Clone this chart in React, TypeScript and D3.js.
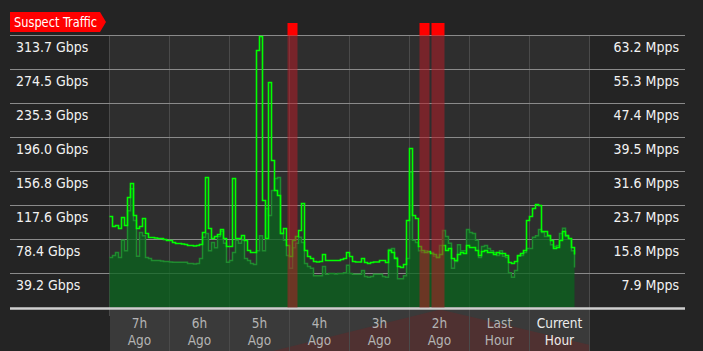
import * as d3 from "d3";

const W = 703;
const H = 351;

// traffic samples, one every 3 minutes starting 8h ago
const bpsGbps = [
  105.0, 93.4, 94.6, 91.1, 103.8, 94.6, 126.9, 143.0, 106.1, 91.1,
  93.4, 102.6, 85.3, 80.7, 80.7, 80.2, 79.6, 79.6, 78.4, 77.3,
  77.3, 75.0, 73.8, 73.8, 73.2, 72.7, 71.5, 71.5, 70.9, 71.5,
  72.7, 86.5, 149.9, 91.1, 79.6, 81.9, 84.2, 90.0, 79.6, 70.4,
  70.4, 148.8, 79.6, 79.6, 83.0, 77.3, 65.7, 63.4, 63.4, 296.4,
  312.5, 123.4, 79.6, 259.5, 169.5, 134.9, 129.2, 85.3, 91.1, 71.5,
  58.8, 77.3, 81.9, 88.8, 119.9, 65.7, 58.8, 56.5, 53.1, 52.5,
  53.1, 61.1, 54.2, 54.2, 54.2, 54.2, 54.2, 55.4, 56.5, 63.4,
  58.8, 53.1, 52.5, 52.5, 56.5, 51.9, 50.7, 51.9, 52.5, 52.5,
  54.2, 54.2, 51.9, 65.7, 63.4, 56.5, 47.3, 46.1, 49.6, 100.3,
  183.4, 106.1, 102.6, 70.4, 65.7, 63.4, 64.6, 62.3, 61.1, 57.7,
  61.1, 71.5, 65.7, 68.0, 56.5, 54.2, 61.1, 63.4, 62.3, 71.5,
  69.2, 69.2, 65.7, 60.0, 64.6, 65.7, 63.4, 63.4, 61.1, 63.4,
  62.3, 62.3, 60.0, 51.9, 50.7, 53.1, 60.0, 62.3, 65.7, 100.3,
  105.0, 114.2, 118.8, 117.6, 87.7, 87.7, 83.0, 77.3, 68.0, 69.2,
  77.3, 87.7, 83.0, 79.6, 69.2, 61.1,
];

const ppsMpps = [
  11.6, 12.1, 12.8, 11.6, 15.6, 13.2, 22.5, 27.6, 20.2, 11.9,
  17.4, 16.7, 11.6, 11.4, 10.9, 10.9, 10.9, 10.8, 10.7, 10.7,
  10.6, 10.5, 10.5, 10.5, 10.5, 10.5, 10.2, 10.2, 10.1, 10.2,
  11.4, 16.3, 17.2, 13.2, 15.1, 13.9, 16.5, 17.7, 14.9, 10.5,
  10.9, 12.8, 15.6, 14.9, 15.6, 11.4, 10.9, 10.2, 10.0, 13.2,
  16.7, 13.2, 23.0, 21.4, 27.2, 30.0, 30.2, 17.2, 15.6, 12.1,
  9.1, 13.9, 14.9, 16.3, 15.1, 10.2, 9.5, 9.1, 7.4, 7.4,
  7.4, 9.5, 7.7, 7.9, 7.9, 7.8, 7.9, 7.9, 8.1, 9.8,
  7.9, 7.7, 7.7, 7.7, 8.6, 7.2, 7.0, 7.2, 7.7, 7.7,
  7.7, 7.2, 7.0, 13.5, 13.7, 11.6, 6.7, 6.7, 7.4, 11.4,
  31.4, 15.6, 15.1, 13.2, 12.8, 13.2, 12.8, 12.8, 11.9, 11.6,
  14.4, 17.9, 16.5, 14.9, 9.1, 10.7, 14.6, 13.2, 13.2, 18.1,
  17.4, 17.2, 15.6, 11.6, 14.2, 14.4, 13.7, 13.2, 12.8, 12.1,
  13.2, 11.9, 11.6, 8.1, 7.0, 8.6, 11.9, 12.1, 12.8, 13.7,
  13.7, 16.3, 16.7, 18.1, 17.4, 16.5, 16.5, 14.6, 14.2, 14.4,
  17.2, 18.4, 16.5, 16.0, 13.2, 9.3,
];

const startMinAgo = 480;
const stepMin = 3;

// suspect traffic windows, minutes ago
const suspectFrom = [301, 169, 157];
const suspectTo = [291, 159, 144];

const hourLabels = [
  ["7h", "Ago"],
  ["6h", "Ago"],
  ["5h", "Ago"],
  ["4h", "Ago"],
  ["3h", "Ago"],
  ["2h", "Ago"],
  ["Last", "Hour"],
  ["Current", "Hour"],
];

const gbpsMax = 313.7;
const mppsMax = 63.2;
const gbpsTicks = ["39.2 Gbps", "78.4 Gbps", "117.6 Gbps", "156.8 Gbps", "196.0 Gbps", "235.3 Gbps", "274.5 Gbps", "313.7 Gbps"];
const mppsTicks = ["7.9 Mpps", "15.8 Mpps", "23.7 Mpps", "31.6 Mpps", "39.5 Mpps", "47.4 Mpps", "55.3 Mpps", "63.2 Mpps"];

const FONT = "'DejaVu Sans Condensed', 'DejaVu Sans', sans-serif";

export default function App() {
  const x = d3.scaleLinear().domain([startMinAgo, 0]).range([109.5, 589.5]);
  const yG = d3.scaleLinear().domain([0, gbpsMax]).range([307.5, 35.5]);
  const yM = d3.scaleLinear().domain([0, mppsMax]).range([307.5, 35.5]);
  const tx = (i: number) => x(startMinAgo - i * stepMin);

  const ppsArea = d3.area<number>()
    .x((d, i) => tx(i))
    .y0(yM(0))
    .y1((d) => yM(d))
    .curve(d3.curveStepAfter);
  const ppsLine = d3.line<number>()
    .x((d, i) => tx(i))
    .y((d) => yM(d))
    .curve(d3.curveStepAfter);
  const bpsLine = d3.line<number>()
    .x((d, i) => tx(i))
    .y((d) => yG(d))
    .curve(d3.curveStepAfter);

  const hours = d3.range(0, 9).map((k) => startMinAgo - k * 60);
  const plotTop = yG(gbpsMax);
  const plotBottom = yG(0);

  return (
    <svg width={W} height={H} style={{ position: "absolute", left: 0, top: 0, display: "block" }}>
      <rect x={0} y={0} width={W} height={H} fill="#242424" />
      {/* plot background */}
      <rect x={x(startMinAgo)} y={plotTop} width={x(0) - x(startMinAgo)} height={plotBottom - plotTop} fill="#2e2e2e" />
      {/* time label band */}
      <rect x={x(startMinAgo) + 0.5} y={309.5} width={x(0) - x(startMinAgo)} height={H - 309.5} fill="#3a3a3a" />
      <polygon points="273,351 440,309.5 590,345 590,351" fill="rgba(130,30,30,0.3)" />

      {/* vertical grid */}
      {hours.map((h, k) => (
        <line key={"v" + k} x1={x(h)} x2={x(h)} y1={plotTop} y2={k === 0 ? 316 : H} stroke="#4a4a4a" strokeWidth={1} />
      ))}
      {/* horizontal grid */}
      {gbpsTicks.map((t, k) => {
        const y = yG((gbpsMax * (k + 1)) / 8);
        return <line key={"h" + k} x1={10} x2={685} y1={y} y2={y} stroke="#8a8a8a" strokeWidth={1} />;
      })}

      {/* packets per second */}
      <path d={ppsArea(ppsMpps) || ""} fill="rgb(10,100,30)" fillOpacity={0.75} />
      <path d={ppsLine(ppsMpps) || ""} fill="none" stroke="#1f8c2f" strokeWidth={1.5} />
      {/* bits per second */}
      <path d={bpsLine(bpsGbps) || ""} fill="none" stroke="#00ff00" strokeWidth={1.6} />

      {/* baseline */}
      <line x1={10} x2={685} y1={308.5} y2={308.5} stroke="#cfcfcf" strokeWidth={2.5} />

      {/* suspect windows */}
      {suspectFrom.map((f, k) => (
        <g key={"s" + k}>
          <rect x={x(f) - 1} y={plotTop} width={x(suspectTo[k]) - x(f)} height={plotBottom - plotTop} fill="rgba(180,30,40,0.55)" />
          <rect x={x(f) - 1} y={23} width={x(suspectTo[k]) - x(f)} height={plotTop - 23} fill="#ff0000" />
        </g>
      ))}

      {/* y labels */}
      {gbpsTicks.map((t, k) => (
        <text key={"lg" + k} x={16} y={yG((gbpsMax * (k + 1)) / 8) + 16} fill="#f2f2f2" fontFamily={FONT} fontSize={14}>
          {t}
        </text>
      ))}
      {mppsTicks.map((t, k) => (
        <text key={"lm" + k} x={679} y={yM((mppsMax * (k + 1)) / 8) + 16} fill="#f2f2f2" fontFamily={FONT} fontSize={14} textAnchor="end">
          {t}
        </text>
      ))}

      {/* time labels */}
      {hourLabels.map((lab, k) => {
        const cx = x(startMinAgo - k * 60 - 30);
        const fill = k === hourLabels.length - 1 ? "#ececec" : "#b4b4b4";
        return (
          <text key={"t" + k} x={cx} textAnchor="middle" fill={fill} fontFamily={FONT} fontSize={13.5}>
            <tspan x={cx} y={328}>{lab[0]}</tspan>
            <tspan x={cx} y={345}>{lab[1]}</tspan>
          </text>
        );
      })}

      {/* legend badge */}
      <polygon points="10,12 100,12 106,22 100,32 10,32" fill="#ff0000" />
      <text x={14} y={27} fill="#ffffff" fontFamily={FONT} fontSize={14} textLength={83} lengthAdjust="spacingAndGlyphs">
        Suspect Traffic
      </text>
    </svg>
  );
}
